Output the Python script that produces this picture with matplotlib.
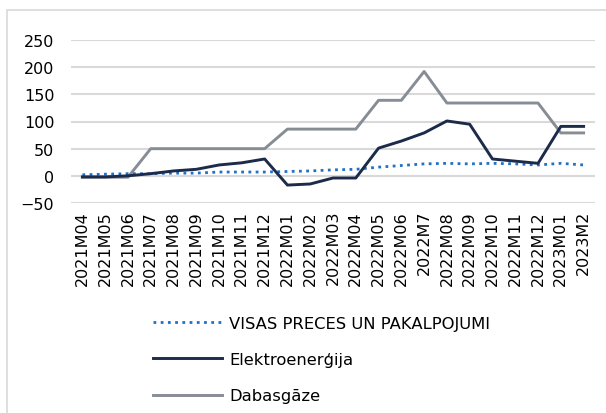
import matplotlib
matplotlib.use('Agg')
import matplotlib.pyplot as plt
import matplotlib.patches as patches
import numpy as np

months = ['2021M04', '2021M05', '2021M06', '2021M07', '2021M08', '2021M09', '2021M10',
          '2021M11', '2021M12', '2022M01', '2022M02', '2022M03', '2022M04', '2022M05',
          '2022M06', '2022M7', '2022M08', '2022M09', '2022M10', '2022M11', '2022M12',
          '2023M01', '2023M2']

visas = [2, 3, 4, 4, 5, 5, 7, 7, 7, 8, 9, 11, 12, 16, 19, 22, 23, 22, 23, 22, 20, 23, 20]
elektro = [-2, -2, 0, 4, 9, 12, 20, 24, 31, -17, -15, -4, -4, 51, 64, 79, 101, 95, 31, 27, 23, 91, 91]
gaze = [-2.5, -2.5, -2.5, 50, 50, 50, 50, 50, 50, 86, 86, 86, 86, 139, 139, 192, 134, 134,
        134, 134, 134, 79, 79]

plt.rcParams['font.family'] = ['DejaVu Sans']

fig = plt.figure(figsize=(6.06, 4.14), dpi=100)
ax = fig.add_axes([71/606, 1 - 204/414, 524/606, 163/414])

# chart border
fig.patches.append(patches.Rectangle((7/606, -0.01), 1.0, 1 - 11/414 + 0.01,
                                     transform=fig.transFigure, fill=False,
                                     edgecolor='#D9D9D9', linewidth=1.2))

x = np.arange(len(months))
ax.plot(x, visas, color='#2070C8', linestyle=(0, (1, 1.6)), linewidth=2,
        label='VISAS PRECES UN PAKALPOJUMI', zorder=3)
ax.plot(x, elektro, color='#1C2B4A', linewidth=2.1, label='Elektroenerģija', zorder=4)
ax.plot(x, gaze, color='#878D95', linewidth=2.1, label='Dabasgāze', zorder=2)

ax.set_xlim(-0.5, len(months) - 0.5)
ax.set_ylim(-50, 250)
ax.set_yticks([-50, 0, 50, 100, 150, 200, 250])
ax.set_xticks(x)
ax.set_xticklabels(months, rotation=90)
ax.tick_params(axis='both', length=0, labelsize=11.5, colors='#000000')
ax.tick_params(axis='y', pad=12)
ax.tick_params(axis='x', pad=5)
ax.grid(axis='y', color='#D9D9D9', linewidth=1.5, zorder=0)
for s in ax.spines.values():
    s.set_visible(False)

leg = fig.legend(loc='upper left', bbox_to_anchor=(138/606, 1 - 302/414), frameon=False,
                 fontsize=11.8, handlelength=4.2, labelspacing=1.3, handletextpad=0.45)

plt.savefig('out.png', dpi=100)
